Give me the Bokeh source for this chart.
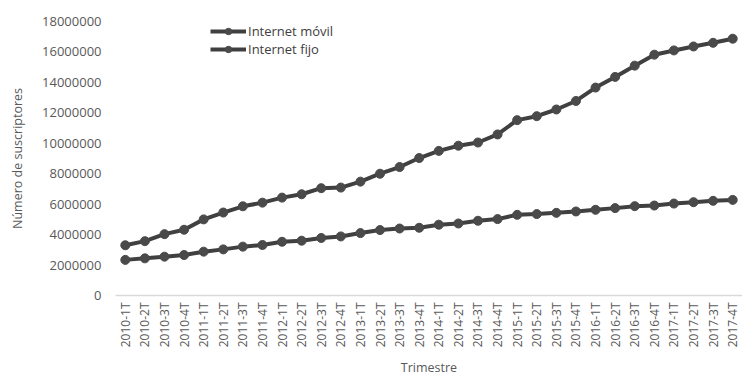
from bokeh.plotting import figure
from bokeh.models import Range1d, FixedTicker, BasicTickFormatter, Legend, LegendItem
from bokeh.embed import file_html
from bokeh.resources import INLINE
import math

trimestres = [
    "2010-1T", "2010-2T", "2010-3T", "2010-4T",
    "2011-1T", "2011-2T", "2011-3T", "2011-4T",
    "2012-1T", "2012-2T", "2012-3T", "2012-4T",
    "2013-1T", "2013-2T", "2013-3T", "2013-4T",
    "2014-1T", "2014-2T", "2014-3T", "2014-4T",
    "2015-1T", "2015-2T", "2015-3T", "2015-4T",
    "2016-1T", "2016-2T", "2016-3T", "2016-4T",
    "2017-1T", "2017-2T", "2017-3T", "2017-4T",
]

internet_movil = [
    3300000, 3570000, 4030000, 4320000,
    5000000, 5450000, 5860000, 6100000,
    6430000, 6650000, 7050000, 7090000,
    7480000, 8000000, 8440000, 9030000,
    9500000, 9840000, 10050000, 10580000,
    11520000, 11780000, 12220000, 12780000,
    13660000, 14360000, 15100000, 15820000,
    16100000, 16360000, 16600000, 16870000,
]

internet_fijo = [
    2340000, 2440000, 2550000, 2660000,
    2880000, 3030000, 3210000, 3320000,
    3530000, 3600000, 3780000, 3880000,
    4100000, 4300000, 4400000, 4450000,
    4650000, 4730000, 4910000, 5020000,
    5300000, 5350000, 5430000, 5520000,
    5630000, 5740000, 5870000, 5910000,
    6040000, 6130000, 6220000, 6280000,
]

y_ticks = [0, 2000000, 4000000, 6000000, 8000000, 10000000,
           12000000, 14000000, 16000000, 18000000]

FONT = "Open Sans"
TXT = "#595959"
LINE = "#404040"
MARK = "#4a4a4a"

p = figure(
    width=742, height=379,
    x_range=trimestres,
    y_range=Range1d(0, 18000000),
    output_backend="svg", toolbar_location=None,
    min_border_left=115, min_border_right=0,
    min_border_top=21, min_border_bottom=83,
)
p.x_range.range_padding = 0
p.outline_line_color = None
p.xgrid.grid_line_color = None
p.ygrid.grid_line_color = None

r1l = p.line(trimestres, internet_movil, line_color=LINE, line_width=4)
r1s = p.scatter(trimestres, internet_movil, size=9, fill_color=MARK, line_color=MARK)
r2l = p.line(trimestres, internet_fijo, line_color=LINE, line_width=4)
r2s = p.scatter(trimestres, internet_fijo, size=9, fill_color=MARK, line_color=MARK)

legend = Legend(items=[
    LegendItem(label="Internet móvil", renderers=[r1l, r1s]),
    LegendItem(label="Internet fijo", renderers=[r2l, r2s]),
], location=(95, 237))
legend.padding = 0
legend.margin = 0
legend.spacing = 0
legend.border_line_color = None
legend.background_fill_alpha = 0
legend.glyph_width = 36
legend.glyph_height = 16
legend.label_height = 16
legend.label_standoff = 2
legend.label_text_font = FONT
legend.label_text_font_size = "13px"
legend.label_text_color = LINE
p.add_layout(legend)

yax = p.yaxis[0]
yax.ticker = FixedTicker(ticks=y_ticks)
yax.formatter = BasicTickFormatter(use_scientific=False)
yax.axis_line_color = None
yax.major_tick_line_color = None
yax.minor_tick_line_color = None
yax.major_tick_out = 0
yax.major_label_standoff = 14
yax.major_label_text_font = FONT
yax.major_label_text_font_size = "13px"
yax.major_label_text_color = TXT
yax.axis_label = "Número de suscriptores"
yax.axis_label_text_font = FONT
yax.axis_label_text_font_size = "12.5px"
yax.axis_label_text_font_style = "normal"
yax.axis_label_text_color = TXT
yax.axis_label_standoff = 13

xax = p.xaxis[0]
xax.axis_line_color = "#d9d9d9"
xax.axis_line_width = 1.5
xax.major_tick_line_color = None
xax.minor_tick_line_color = None
xax.major_tick_out = 0
xax.major_label_standoff = 7
xax.major_label_orientation = math.pi / 2
xax.major_label_text_font = FONT
xax.major_label_text_font_size = "12px"
xax.major_label_text_color = TXT
xax.axis_label = "Trimestre"
xax.axis_label_text_font = FONT
xax.axis_label_text_font_size = "12.5px"
xax.axis_label_text_font_style = "normal"
xax.axis_label_text_color = TXT
xax.axis_label_standoff = 9

open("out.html", "w").write(file_html(p, INLINE))
